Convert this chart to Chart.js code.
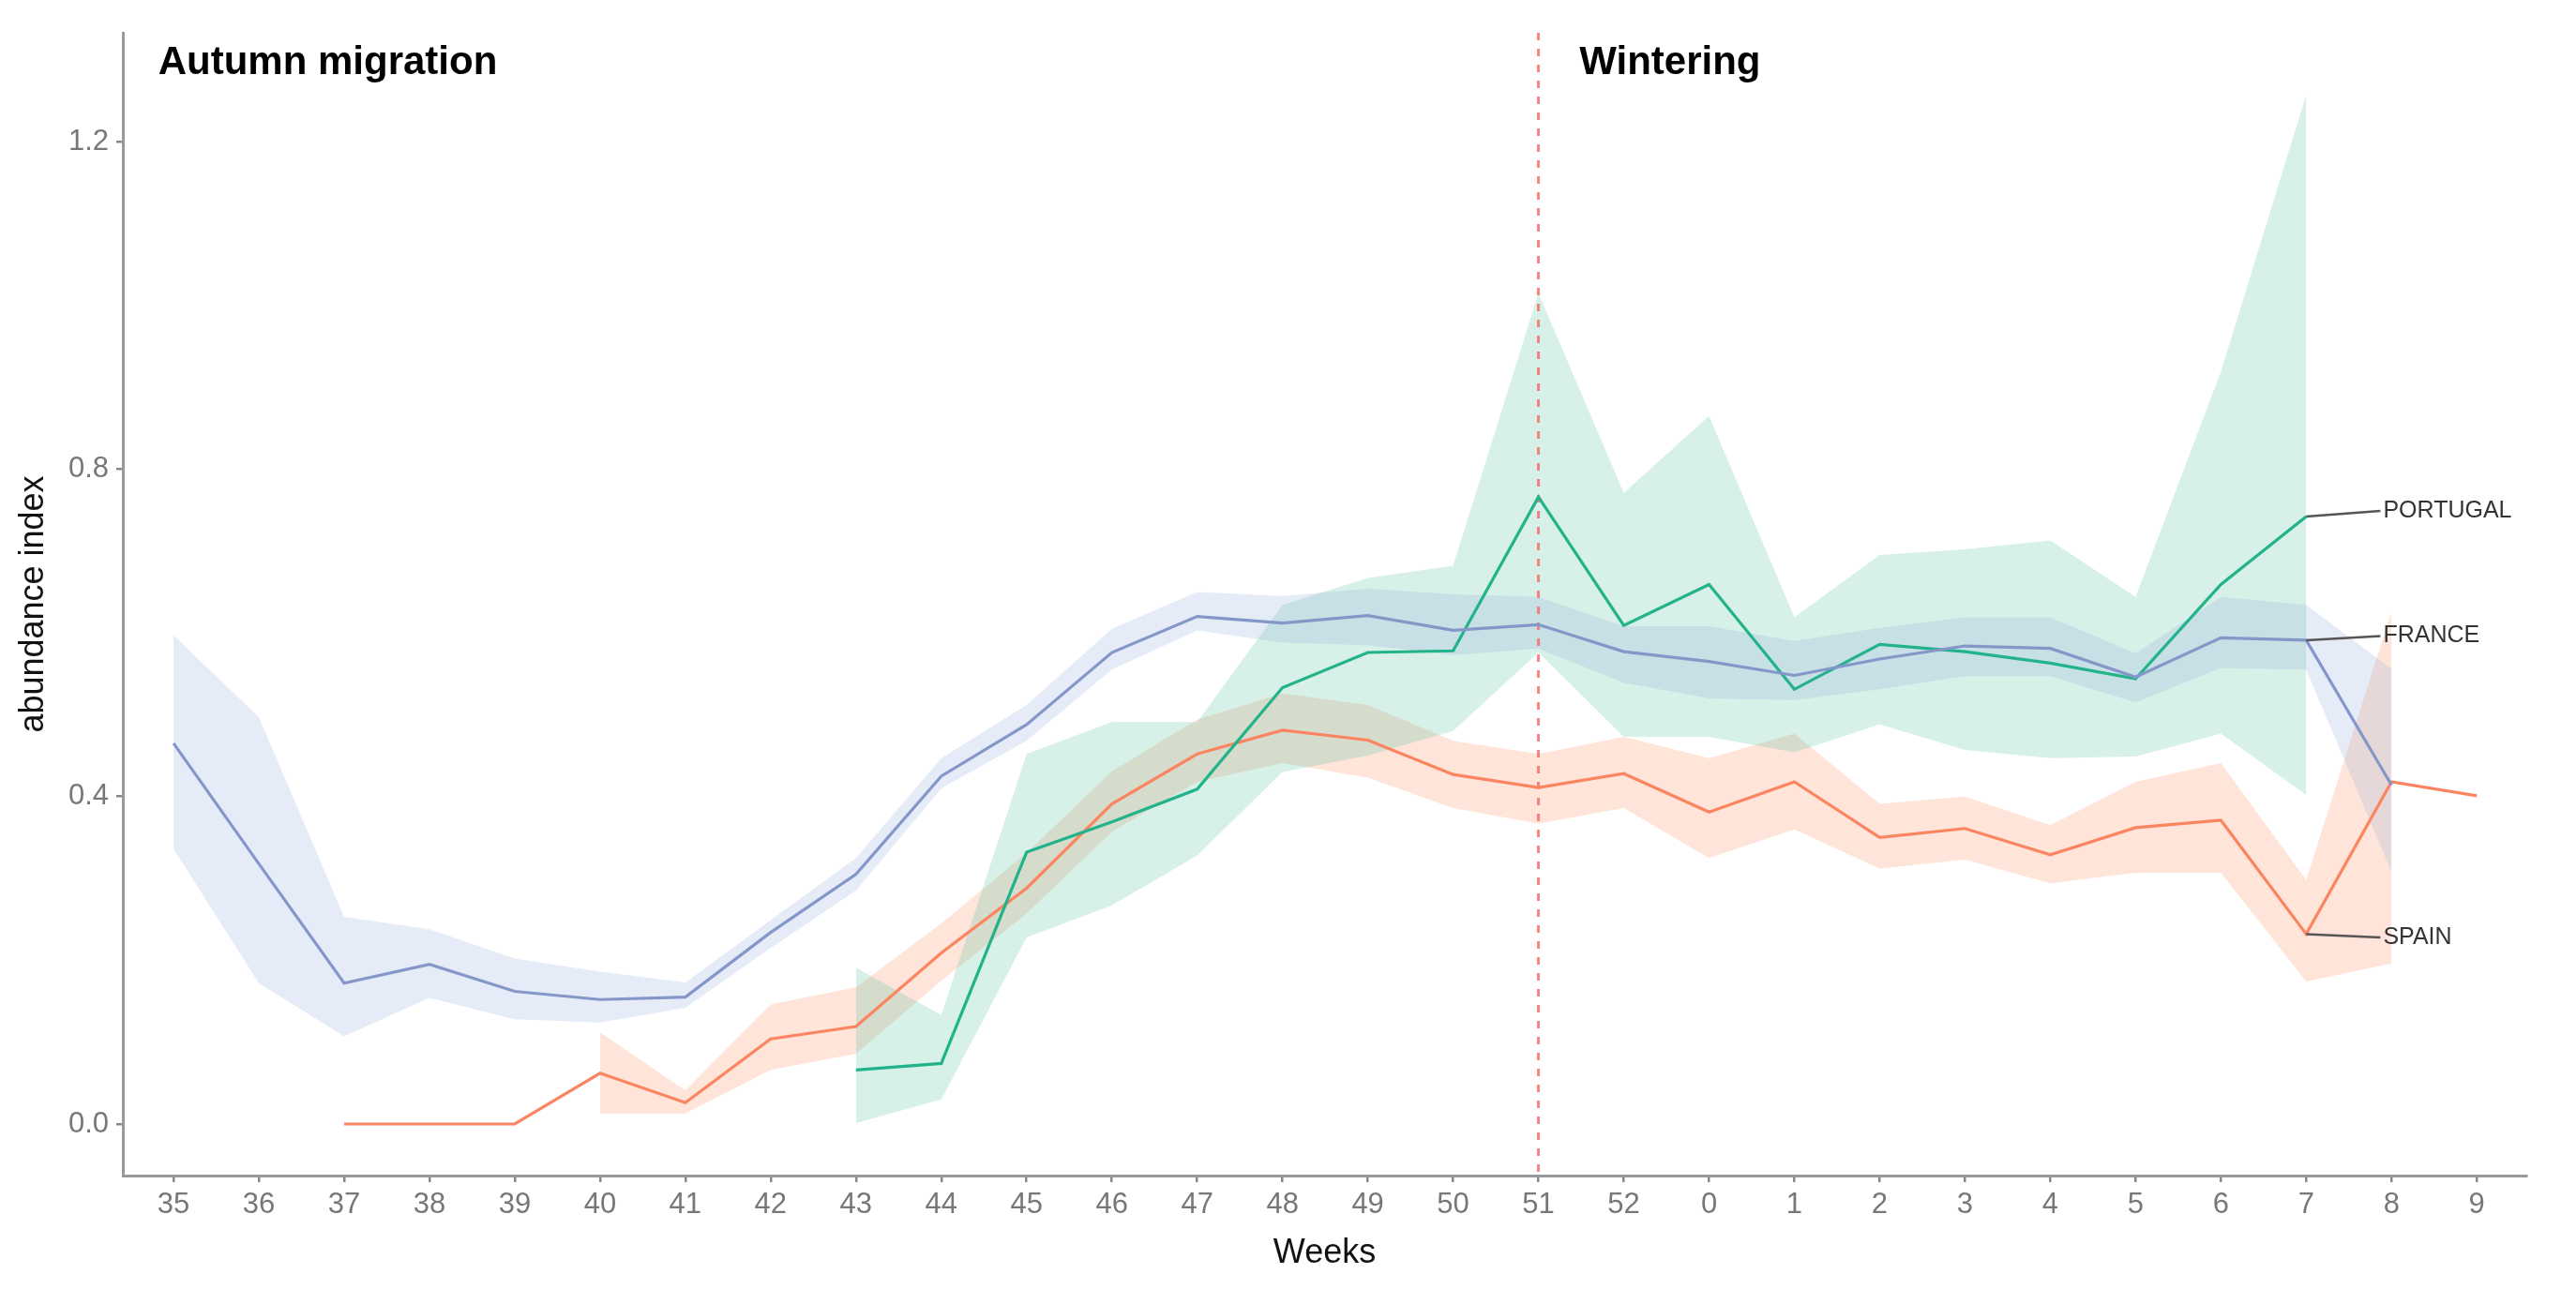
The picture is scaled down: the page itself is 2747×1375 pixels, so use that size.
<!DOCTYPE html>
<html>
<head>
<meta charset="utf-8">
<script src="https://cdn.jsdelivr.net/npm/chart.js@4"></script>
<style>
  html, body { margin: 0; padding: 0; background: #fff; }
  #c { display: block; }
</style>
</head>
<body>
<canvas id="c" width="2747" height="1375" style="width:2747px;height:1375px"></canvas>
<script>
// ---- data ----
const weeks = ['35','36','37','38','39','40','41','42','43','44','45','46','47','48','49','50','51','52','0','1','2','3','4','5','6','7','8','9'];

const franceMean  = [0.465,0.318,0.172,0.195,0.162,0.152,0.155,0.234,0.305,0.425,0.488,0.576,0.620,0.612,0.621,0.603,0.610,0.577,0.565,0.548,0.568,0.584,0.581,0.546,0.594,0.591,0.414,null];
const franceUpper = [0.597,0.497,0.253,0.238,0.202,0.186,0.173,0.249,0.325,0.447,0.512,0.605,0.650,0.645,0.654,0.647,0.644,0.608,0.608,0.590,0.606,0.619,0.619,0.575,0.644,0.634,0.556,null];
const franceLower = [0.336,0.172,0.107,0.154,0.128,0.124,0.142,0.215,0.285,0.410,0.468,0.555,0.603,0.588,0.585,0.573,0.581,0.539,0.520,0.518,0.531,0.547,0.547,0.515,0.557,0.555,0.308,null];

const portugalMean  = [null,null,null,null,null,null,null,null,0.066,0.074,0.332,0.369,0.409,0.533,0.576,0.578,0.766,0.609,0.659,0.531,0.586,0.577,0.563,0.544,0.659,0.742,null,null];
const portugalUpper = [null,null,null,null,null,null,null,null,0.191,0.133,0.452,0.491,0.491,0.634,0.667,0.682,1.015,0.771,0.865,0.619,0.695,0.702,0.713,0.644,0.919,1.257,null,null];
const portugalLower = [null,null,null,null,null,null,null,null,0.001,0.030,0.228,0.267,0.328,0.430,0.450,0.480,0.576,0.473,0.473,0.454,0.488,0.457,0.447,0.449,0.477,0.402,null,null];

const spainMean  = [null,null,0.000,0.000,0.000,0.062,0.026,0.104,0.119,0.209,0.288,0.391,0.452,0.481,0.469,0.427,0.411,0.428,0.381,0.418,0.350,0.361,0.329,0.362,0.371,0.232,0.418,0.401];
const spainUpper = [null,null,null,null,null,0.112,0.041,0.146,0.167,0.245,0.331,0.431,0.494,0.526,0.512,0.468,0.452,0.473,0.447,0.477,0.391,0.400,0.365,0.418,0.441,0.298,0.626,null];
const spainLower = [null,null,null,null,null,0.013,0.013,0.066,0.086,0.175,0.257,0.357,0.418,0.441,0.423,0.386,0.367,0.386,0.325,0.360,0.312,0.323,0.294,0.307,0.307,0.174,0.196,null];

const yTicks = [0.0, 0.4, 0.8, 1.2];
const seriesLabels = ['PORTUGAL', 'FRANCE', 'SPAIN'];
const sectionTitles = ['Autumn migration', 'Wintering'];
const splitWeek = '51';

// ---- helpers ----
const toPts = arr => arr.map((v, i) => ({ x: i, y: v }));
const FONT = '"Liberation Sans", Arial, Helvetica, sans-serif';

const C = {
  franceLine: '#8597c9', franceFill: 'rgba(130,158,214,0.20)',
  portugalLine: '#22b38b', portugalFill: 'rgba(102,196,165,0.26)',
  spainLine: '#fb8560', spainFill: 'rgba(252,141,98,0.24)'
};

function band(data, fill, color) {
  return { data: toPts(data), borderWidth: 0, pointRadius: 0, fill: fill,
           backgroundColor: color, borderColor: 'rgba(0,0,0,0)', spanGaps: false, tension: 0 };
}
function line(data, color) {
  return { data: toPts(data), borderWidth: 3.2, pointRadius: 0, fill: false,
           borderColor: color, spanGaps: false, tension: 0 };
}

const datasets = [
  band(franceUpper, false, C.franceFill),      // 0
  band(franceLower, 0, C.franceFill),          // 1
  band(portugalUpper, false, C.portugalFill),  // 2
  band(portugalLower, 2, C.portugalFill),      // 3
  band(spainUpper, false, C.spainFill),        // 4
  band(spainLower, 4, C.spainFill),            // 5
  line(franceMean, C.franceLine),              // 6
  line(portugalMean, C.portugalLine),          // 7
  line(spainMean, C.spainLine)                 // 8
];

// annotation plugin: split line, section titles, end labels
const annot = {
  id: 'annot',
  beforeDatasetsDraw(chart) {
    const { ctx, chartArea, scales: { x } } = chart;
    const xp = x.getPixelForValue(weeks.indexOf(splitWeek));
    ctx.save();
    ctx.strokeStyle = 'rgba(246,110,110,0.85)';
    ctx.lineWidth = 3;
    ctx.setLineDash([8, 9]);
    ctx.beginPath();
    ctx.moveTo(xp, chartArea.top);
    ctx.lineTo(xp, chartArea.bottom);
    ctx.stroke();
    ctx.restore();
  },
  afterDatasetsDraw(chart) {
    const { ctx, scales: { x, y } } = chart;
    ctx.save();
    ctx.fillStyle = '#000';
    ctx.font = 'bold 42px ' + FONT;
    ctx.textBaseline = 'middle';
    ctx.textAlign = 'left';
    ctx.fillText(sectionTitles[0], x.getPixelForValue(-0.18), y.getPixelForValue(1.296));
    ctx.fillText(sectionTitles[1], x.getPixelForValue(16.48), y.getPixelForValue(1.296));

    const last = weeks.indexOf('7');
    const ends = [
      { lab: seriesLabels[0], from: portugalMean[last], to: 0.749 },
      { lab: seriesLabels[1], from: franceMean[last], to: 0.596 },
      { lab: seriesLabels[2], from: spainMean[last], to: 0.228 }
    ];
    ctx.font = '25px ' + FONT;
    ends.forEach(e => {
      const x0 = x.getPixelForValue(last), y0 = y.getPixelForValue(e.from);
      const x1 = x.getPixelForValue(last + 0.87), y1 = y.getPixelForValue(e.to);
      ctx.strokeStyle = '#555';
      ctx.lineWidth = 2.5;
      ctx.beginPath();
      ctx.moveTo(x0, y0);
      ctx.lineTo(x1, y1);
      ctx.stroke();
      ctx.fillStyle = '#333';
      ctx.fillText(e.lab, x1 + 3, y1);
    });
    ctx.restore();
  }
};

new Chart(document.getElementById('c'), {
  type: 'line',
  data: { datasets },
  options: {
    responsive: false,
    animation: false,
    devicePixelRatio: 1,
    layout: { padding: { left: 0, top: 35, right: 53, bottom: 0 } },
    plugins: {
      legend: { display: false },
      tooltip: { enabled: false },
      filler: { drawTime: 'beforeDatasetsDraw', propagate: false }
    },
    scales: {
      x: {
        type: 'linear',
        min: -0.594, max: 27.58,
        afterBuildTicks: s => { s.ticks = weeks.map((w, i) => ({ value: i })); },
        afterFit: s => { s.height = 121; },
        ticks: {
          callback: (v) => weeks[v] !== undefined ? weeks[v] : '',
          color: '#777', font: { family: FONT, size: 31 }, padding: 6,
          maxRotation: 0, autoSkip: false
        },
        grid: { display: true, drawOnChartArea: false, drawTicks: true, tickLength: 7, color: '#888', lineWidth: 2.5 },
        border: { display: true, color: '#999', width: 3 },
        title: { display: true, text: 'Weeks', color: '#111', font: { family: FONT, size: 36 }, padding: { top: 0, bottom: 16 } }
      },
      y: {
        type: 'linear',
        min: -0.063, max: 1.333,
        afterBuildTicks: s => { s.ticks = yTicks.map(v => ({ value: v })); },
        afterFit: s => { s.width = 131; },
        ticks: {
          callback: v => v.toFixed(1),
          color: '#777', font: { family: FONT, size: 31 }, padding: 8
        },
        grid: { display: true, drawOnChartArea: false, drawTicks: true, tickLength: 7, color: '#888', lineWidth: 2.5 },
        border: { display: true, color: '#999', width: 3 },
        title: { display: true, text: 'abundance index', color: '#111', font: { family: FONT, size: 36 }, padding: { top: 14, bottom: 0 } }
      }
    }
  },
  plugins: [annot]
});
</script>
</body>
</html>
